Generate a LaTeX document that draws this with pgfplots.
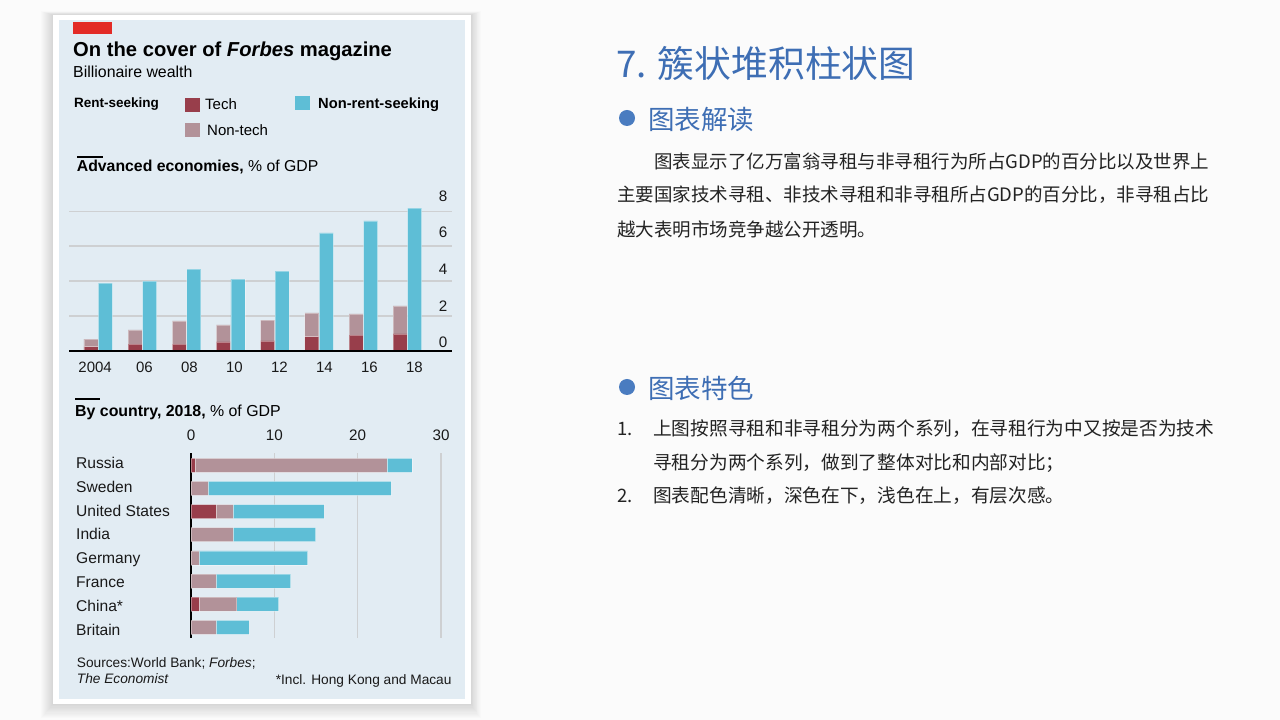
\documentclass[border=0pt]{standalone}
\usepackage{pgfplots}
\pgfplotsset{compat=1.18}
\usepackage{fontspec}
\setmainfont{Liberation Sans}
\newfontfamily\cjk{Noto Sans CJK SC}
\definecolor{slidebg}{RGB}{251,251,251}
\definecolor{panelbg}{RGB}{226,236,243}
\definecolor{techcol}{RGB}{152,62,75}
\definecolor{nontechcol}{RGB}{178,146,153}
\definecolor{nonrentcol}{RGB}{94,190,214}
\definecolor{gridgray}{RGB}{206,208,210}
\definecolor{econred}{RGB}{227,43,38}
\definecolor{titleblue}{RGB}{62,110,180}
\definecolor{bulletblue}{RGB}{74,124,192}
\definecolor{bodytext}{RGB}{35,35,35}
\definecolor{labeltext}{RGB}{25,25,25}

\pgfplotstableread{
x tech nontech nonrent
0 0.23 0.44 3.89
1 0.38 0.81 4.00
2 0.38 1.33 4.69
3 0.50 0.98 4.12
4 0.56 1.20 4.58
5 0.81 1.36 6.77
6 0.90 1.21 7.46
7 0.96 1.61 8.20
}\advanced

\pgfplotstableread{
y tech nontech nonrent
0 0.48 23.02 3.00
1 0.00 2.04 21.96
2 3.00 2.04 10.92
3 0.00 5.04 9.92
4 0.00 0.96 13.04
5 0.00 3.00 8.96
6 0.96 4.54 5.00
7 0.00 3.00 3.96
}\bycountry

\begin{document}
\begin{tikzpicture}[x=1pt,y=1pt]
% slide background
\fill[slidebg] (0,0) rectangle (1280,720);
\useasboundingbox (0,0) rectangle (1280,720);
% card shadow
\foreach \i in {1,...,12}{
  \fill[black,opacity=0.010] (53-\i*1.0,16-\i*1.2) rectangle (471+\i*0.8,705+\i*0.3);
}
\fill[white] (53,16) rectangle (471,705);
\fill[panelbg] (59,21) rectangle (465,700);
\fill[econred] (73,686) rectangle (112,698);

% titles
\node[anchor=base west,inner sep=0pt,font=\fontsize{20.2}{22}\selectfont\bfseries] at (73,663.3) {On the cover of \textit{Forbes} magazine};
\node[anchor=base west,inner sep=0pt,font=\fontsize{15.9}{17}\selectfont] at (73,642) {Billionaire wealth};

% legend
\node[anchor=base west,inner sep=0pt,font=\fontsize{13.5}{15}\selectfont\bfseries] at (74,612) {Rent-seeking};
\fill[techcol] (185,608.3) rectangle (200,621.7);
\node[anchor=base west,inner sep=0pt,font=\fontsize{15}{16}\selectfont] at (205,610) {Tech};
\fill[nontechcol] (185,583.3) rectangle (200,597);
\node[anchor=base west,inner sep=0pt,font=\fontsize{15}{16}\selectfont] at (207,584.3) {Non-tech};
\fill[nonrentcol] (295,610) rectangle (310,624);
\node[anchor=base west,inner sep=0pt,font=\fontsize{14.7}{16}\selectfont\bfseries] at (318,611) {Non-rent-seeking};

% section headings
\fill[black] (76.7,561.5) rectangle (103,563.5);
\node[anchor=base west,inner sep=0pt,font=\fontsize{15.8}{17}\selectfont] at (76.7,548.3) {\textbf{Advanced economies,} \% of GDP};
\fill[black] (75,320) rectangle (100,322);
\node[anchor=base west,inner sep=0pt,font=\fontsize{15.9}{17}\selectfont] at (75,303.3) {\textbf{By country, 2018,} \% of GDP};

% sources
\node[anchor=base west,inner sep=0pt,font=\fontsize{13.7}{15}\selectfont,text=labeltext] at (76.7,52) {Sources:World Bank; \textit{Forbes};};
\node[anchor=base west,inner sep=0pt,font=\fontsize{13.7}{15}\selectfont,text=labeltext] at (76.7,36) {\textit{The Economist}};
\node[anchor=base east,inner sep=0pt,font=\fontsize{13.7}{15}\selectfont,text=labeltext] at (451.7,35) {*Incl. Hong Kong and Macau};

% ---------- top chart: rent-seeking stacks ----------
\begin{axis}[
  at={(69pt,369.3pt)}, anchor=south west,
  scale only axis, width=383pt, height=149.64pt,
  xmin=-0.66, xmax=8.01, ymin=0, ymax=8.6,
  ybar stacked, bar width=14pt, bar shift=-7.2pt,
  axis line style={draw=none}, major tick length=0pt,
  xtick={0,...,7}, xticklabels={2004,06,08,10,12,14,16,18},
  ytick={0,2,4,6,8},
  ymajorgrids, grid style={draw=gridgray,line width=1.6pt},
  yticklabel pos=right,
  /pgf/number format/assume math mode=true,
  yticklabel style={anchor=south,xshift=-9pt,yshift={(2.7+1.8*\ticknum)*1pt},inner sep=0pt,font=\fontsize{15.2}{16}\selectfont,text=labeltext},
  xticklabel style={anchor=base,xshift={ifthenelse(\ticknum==0,-3,1.2+0.83*\ticknum)*1pt},yshift=-22pt,inner sep=0pt,font=\fontsize{15}{16}\selectfont,text=labeltext},
  clip=false,
]
\addplot[fill=techcol,draw=white,draw opacity=0.35,line width=0.7pt] table[x=x,y=tech]{\advanced};
\addplot[fill=nontechcol,draw=white,draw opacity=0.35,line width=0.7pt] table[x=x,y=nontech]{\advanced};
\end{axis}
% top chart: non-rent-seeking bars
\begin{axis}[
  at={(69pt,369.3pt)}, anchor=south west,
  scale only axis, width=383pt, height=149.64pt,
  xmin=-0.66, xmax=8.01, ymin=0, ymax=8.6,
  ybar, bar width=14pt, bar shift=7.3pt,
  axis lines=none, ticks=none,
  clip=false,
]
\addplot[fill=nonrentcol,draw=white,draw opacity=0.35,line width=0.7pt] table[x=x,y=nonrent]{\advanced};
\draw[black,line width=2pt] (axis cs:-0.66,0) -- (axis cs:8.01,0);
\end{axis}

% ---------- bottom chart ----------
\begin{axis}[
  at={(191pt,82pt)}, anchor=south west,
  scale only axis, width=254.2pt, height=185pt,
  xmin=0, xmax=30.5, ymin=-0.53, ymax=7.46, y dir=reverse,
  xbar stacked, bar width=14pt,
  axis line style={draw=none}, major tick length=0pt,
  xtick={0,10,20,30}, xticklabel pos=upper,
  ytick={0,...,7}, yticklabels={Russia,Sweden,United States,India,Germany,France,China*,Britain},
  xmajorgrids, grid style={draw=gridgray,line width=1.6pt},
  /pgf/number format/assume math mode=true,
  xticklabel style={anchor=base,yshift=12.3pt,inner sep=0pt,font=\fontsize{15.2}{16}\selectfont,text=labeltext},
  yticklabel style={anchor=base west,xshift=-115pt,yshift={-(3.05+0.71*\ticknum)*1pt},inner sep=0pt,font=\fontsize{15.6}{17}\selectfont,text=labeltext},
  clip=false,
]
\addplot[fill=techcol,draw=white,draw opacity=0.35,line width=0.7pt] table[y=y,x=tech]{\bycountry};
\addplot[fill=nontechcol,draw=white,draw opacity=0.35,line width=0.7pt] table[y=y,x=nontech]{\bycountry};
\addplot[fill=nonrentcol,draw=white,draw opacity=0.35,line width=0.7pt] table[y=y,x=nonrent]{\bycountry};
\draw[black,line width=2pt] (axis cs:0,-0.53) -- (axis cs:0,7.46);
\end{axis}

% ---------- right-hand text ----------
\node[anchor=west,inner sep=0pt,font=\cjk\fontsize{36.8}{40}\selectfont,text=titleblue] at (616,657) {7. 簇状堆积柱状图};
\fill[bulletblue] (627,602) circle (8);
\node[anchor=west,inner sep=0pt,font=\cjk\fontsize{26.5}{28}\selectfont,text=titleblue] at (648,601) {图表解读};
\node[anchor=west,inner sep=0pt,font=\cjk\fontsize{18.5}{20}\selectfont,text=bodytext] at (654,559) {图表显示了亿万富翁寻租与非寻租行为所占GDP的百分比以及世界上};
\node[anchor=west,inner sep=0pt,font=\cjk\fontsize{18.5}{20}\selectfont,text=bodytext] at (617,525) {主要国家技术寻租、非技术寻租和非寻租所占GDP的百分比，非寻租占比};
\node[anchor=west,inner sep=0pt,font=\cjk\fontsize{18.5}{20}\selectfont,text=bodytext] at (617,491) {越大表明市场竞争越公开透明。};

\fill[bulletblue] (627,333) circle (8);
\node[anchor=west,inner sep=0pt,font=\cjk\fontsize{26.5}{28}\selectfont,text=titleblue] at (648,332) {图表特色};
\node[anchor=west,inner sep=0pt,font=\cjk\fontsize{18.5}{20}\selectfont,text=bodytext] at (617,291) {1.};
\node[anchor=west,inner sep=0pt,font=\cjk\fontsize{18.7}{20}\selectfont,text=bodytext] at (653,291) {上图按照寻租和非寻租分为两个系列，在寻租行为中又按是否为技术};
\node[anchor=west,inner sep=0pt,font=\cjk\fontsize{18.7}{20}\selectfont,text=bodytext] at (653,257) {寻租分为两个系列，做到了整体对比和内部对比；};
\node[anchor=west,inner sep=0pt,font=\cjk\fontsize{18.5}{20}\selectfont,text=bodytext] at (617,224) {2.};
\node[anchor=west,inner sep=0pt,font=\cjk\fontsize{18.7}{20}\selectfont,text=bodytext] at (653,224) {图表配色清晰，深色在下，浅色在上，有层次感。};
\end{tikzpicture}
\end{document}
